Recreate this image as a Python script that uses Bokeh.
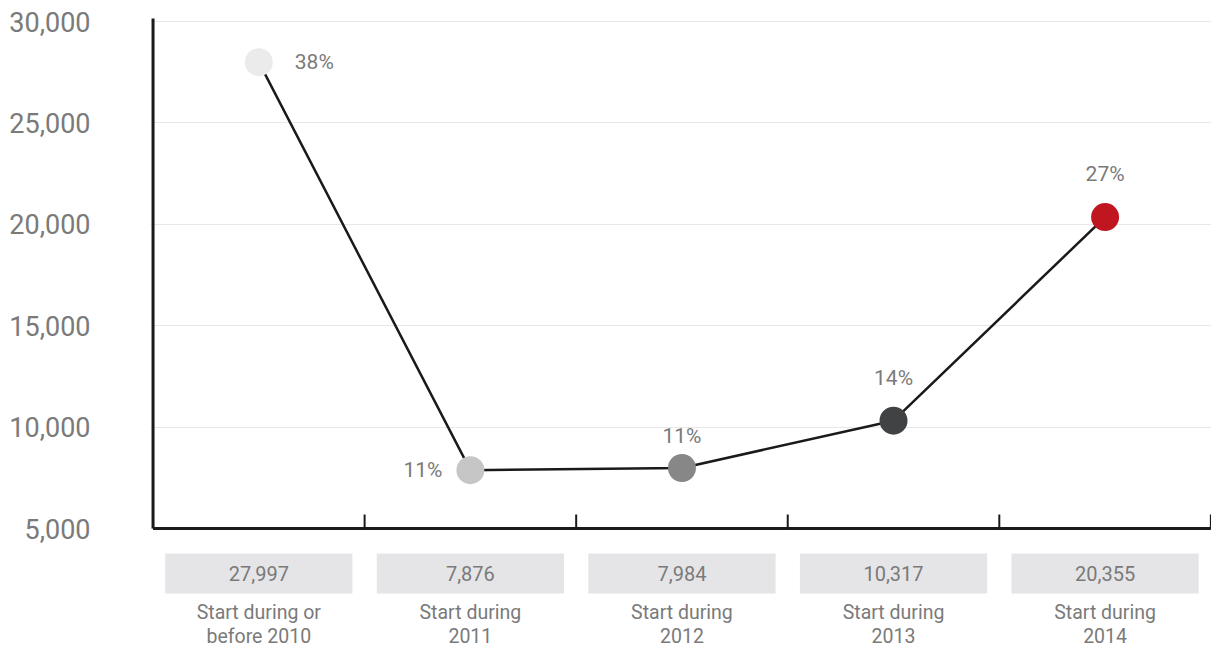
import math
from bokeh.plotting import figure
from bokeh.models import FixedTicker, ColumnDataSource, NumeralTickFormatter
from bokeh.core.properties import value
from bokeh.embed import file_html
from bokeh.resources import INLINE

# ---- data ----
categories = ["Start during or\nbefore 2010", "Start during\n2011", "Start during\n2012",
              "Start during\n2013", "Start during\n2014"]
counts = [27997, 7876, 7984, 10317, 20355]
count_labels = ["27,997", "7,876", "7,984", "10,317", "20,355"]
shares = ["38%", "11%", "11%", "14%", "27%"]
y_ticks = [5000, 10000, 15000, 20000, 25000, 30000]

# ---- styles ----
marker_colors = ["#ebebeb", "#c6c6c6", "#878787", "#414243", "#c0161f"]
pct_dx = [36, -28, 0, 0, 0]
pct_dy = [0, 0, -32, -43, -43]
pct_align = ["left", "right", "center", "center", "center"]
FONT = "Roboto"
TXT = "#7a7a7a"
BOX_Y = 2781      # vertical centre of the value boxes (data units)
CAT_Y = 266       # vertical centre of category label block (data units)
AXIS_TOP = 30148

n = len(categories)
xs = [i + 0.5 for i in range(n)]
base = y_ticks[0]

p = figure(width=1211, height=652, output_backend="svg", toolbar_location=None,
           x_axis_location=None,
           x_range=(-0.012, n + 0.003), y_range=(-1114, 31036),
           min_border_left=150, min_border_right=0, min_border_top=0, min_border_bottom=0)
p.outline_line_color = None
p.background_fill_color = "white"
p.border_fill_color = "white"

# y axis
p.yaxis.ticker = FixedTicker(ticks=y_ticks)
p.yaxis.formatter = NumeralTickFormatter(format="0,0")
p.yaxis.axis_line_color = None
p.yaxis.major_tick_line_color = None
p.yaxis.minor_tick_line_color = None
p.yaxis.major_label_standoff = 54
p.yaxis.major_label_text_font = FONT
p.yaxis.major_label_text_font_size = "27px"
p.yaxis.major_label_text_color = TXT
p.ygrid.ticker = FixedTicker(ticks=y_ticks)
p.ygrid.grid_line_color = "#e8e8e8"
p.ygrid.grid_line_width = 1
p.xgrid.grid_line_color = None

# axis lines
p.segment(x0=[0], y0=[base], x1=[0], y1=[AXIS_TOP], line_color="#1a1a1a", line_width=3)
p.segment(x0=[0], y0=[base], x1=[n], y1=[base], line_color="#1a1a1a", line_width=3)
p.ray(x=[i + 1 for i in range(n)], y=[base] * n, length=14, length_units="screen",
      angle=math.pi / 2, line_color="#1a1a1a", line_width=2)

# value boxes
src_box = ColumnDataSource(dict(x=xs, t=count_labels, c=categories))
p.rect(x="x", y=BOX_Y, width=0.885, height=40, height_units="screen",
       fill_color="#e5e5e7", line_color=None, source=src_box)
p.text(x="x", y=BOX_Y, text="t", source=src_box, text_align="center", text_baseline="middle",
       text_font=value(FONT), text_font_size="20px", text_color=TXT)
p.text(x="x", y=CAT_Y, text="c", source=src_box, text_align="center", text_baseline="middle",
       text_line_height=1.02,
       text_font=value(FONT), text_font_size="19.5px", text_color=TXT)

# line + markers
p.line(xs, counts, line_color="#1a1a1a", line_width=2.5)
p.scatter(xs, counts, size=28, fill_color=marker_colors, line_color=None)

src_pct = ColumnDataSource(dict(x=xs, y=counts, t=shares, dx=pct_dx, dy=pct_dy, al=pct_align))
p.text(x="x", y="y", text="t", x_offset="dx", y_offset="dy", text_align="al",
       text_baseline="middle", source=src_pct,
       text_font=value(FONT), text_font_size="21px", text_color=TXT)

open("out.html", "w").write(file_html(p, INLINE))
